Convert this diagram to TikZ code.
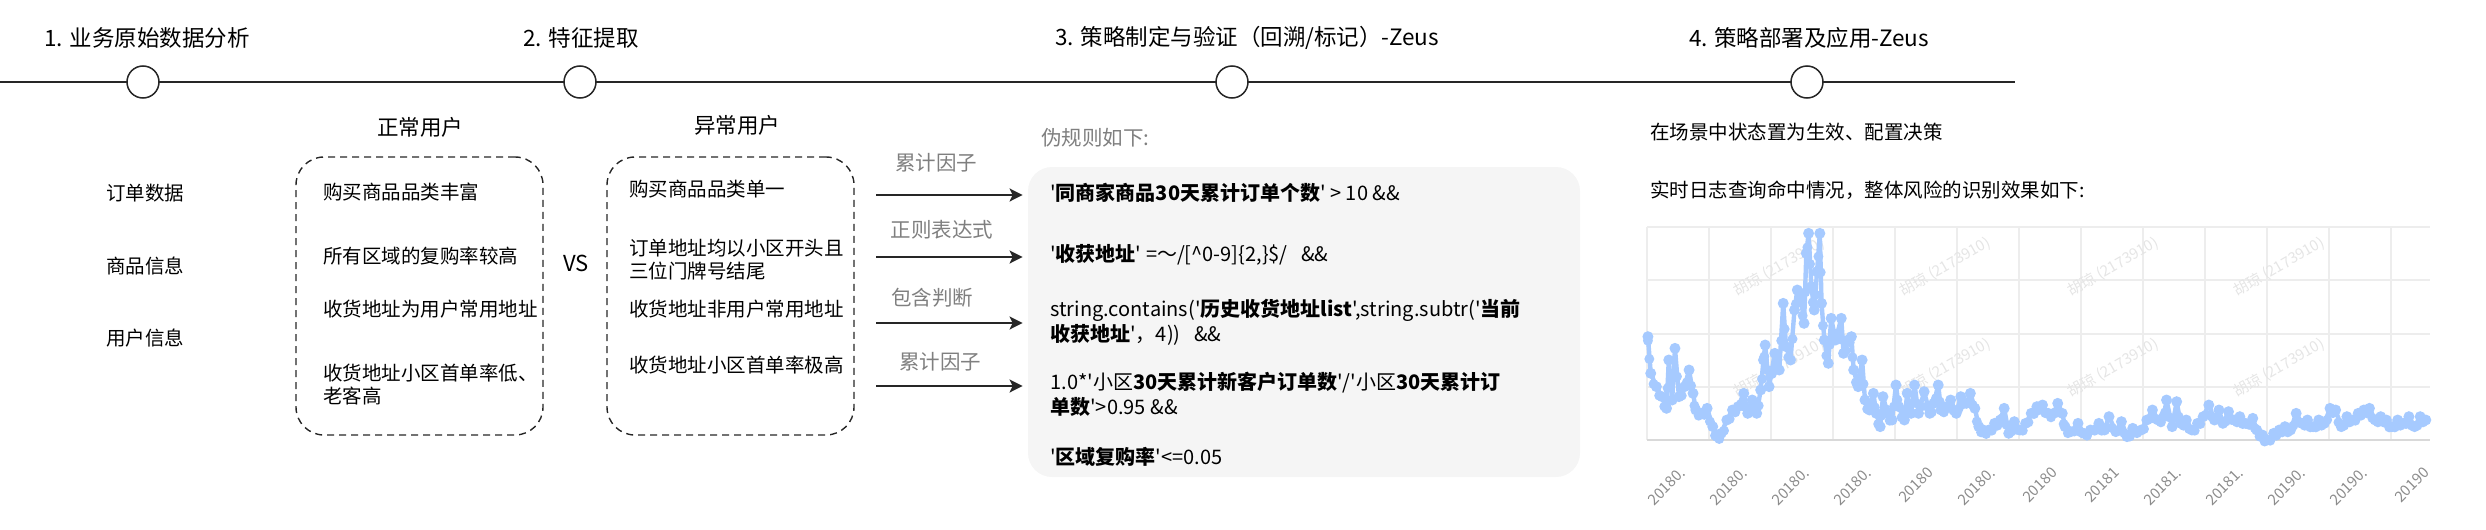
\documentclass[tikz,border=0pt]{standalone}
\usepackage{fontspec}
\newfontfamily\zhfont{Noto Sans CJK SC}
\usetikzlibrary{arrows.meta}
\usetikzlibrary{positioning}
\definecolor{rulefill}{HTML}{F5F5F5}
\definecolor{notegray}{HTML}{7F7F7F}
\definecolor{hitblue}{RGB}{166,202,255}
\definecolor{gridgray}{HTML}{EDEDED}
\tikzset{
  every node/.style={font=\zhfont},
  stagetitle/.style={font=\zhfont\fontsize{11.25}{13.5}\selectfont},
  stagedot/.style={circle, draw=black!85, line width=0.75pt, fill=white, minimum size=16pt, inner sep=0pt},
  sidelabel/.style={anchor=west, inner sep=0pt, font=\zhfont\fontsize{9.75}{12}\selectfont},
  grouptitle/.style={font=\zhfont\fontsize{10.75}{13}\selectfont},
  dashbox/.style={draw=black!85, line width=0.7pt, dash pattern=on 3.5pt off 2.5pt, rounded corners=14pt, minimum width=123.5pt, minimum height=139pt, inner sep=0pt},
  itemtext/.style={anchor=west, inner sep=0pt, align=left, font=\zhfont\fontsize{9.75}{11.5}\selectfont},
  vstext/.style={font=\zhfont\fontsize{11}{13}\selectfont},
  flowarrow/.style={line width=1pt, black!85, -{Stealth[length=6.5pt,width=6.5pt,inset=1.5pt]}, shorten >=2.5pt},
  flowlabel/.style={text=notegray, font=\zhfont\fontsize{10.25}{12}\selectfont},
  rulebox/.style={fill=rulefill, rounded corners=12pt, minimum width=276pt, minimum height=155pt, inner sep=0pt},
  ruletext/.style={anchor=west, inner sep=0pt, align=left, font=\zhfont\fontsize{10}{12.5}\selectfont},
  notetext/.style={anchor=west, inner sep=0pt, font=\zhfont\fontsize{9.75}{12}\selectfont},
  gridline/.style={gridgray, line width=0.75pt},
  hitline/.style={hitblue, line width=2.2pt, line cap=round, line join=round},
  watermark/.style={text=black!10, rotate=30, font=\zhfont\fontsize{7.5}{9}\selectfont},
  ticklabel/.style={text=black!45, rotate=45, anchor=east, inner sep=0pt, font=\zhfont\fontsize{7.5}{9}\selectfont}
}
\def\hitdata{85/410, 90/520, 100/560, 110/590, 118/625, 122/480, 128/600, 133/445, 140/590, 150/560, 158/510, 165/580, 170/630, 180/640, 190/625, 200/680, 208/710, 215/700, 225/660, 235/630, 245/620, 255/580, 262/640, 270/600, 278/640, 285/570, 290/480, 293/435, 300/560, 310/460, 318/510, 325/310, 330/440, 338/480, 345/330, 350/270, 357/300, 362/370, 366/160, 370/100, 375/260, 380/330, 385/215, 390/100, 393/310, 398/420, 405/490, 410/355, 418/420, 428/355, 432/460, 440/420, 446/410, 450/510, 458/560, 465/480, 470/600, 478/630, 485/580, 490/640, 497/680, 502/590, 510/640, 518/660, 525/555, 530/620, 540/660, 545/580, 552/640, 558/555, 565/640, 575/575, 585/640, 592/610, 600/555, 605/630, 615/620, 622/600, 632/640, 640/590, 650/610, 657/580, 665/625, 672/680, 680/690, 690/690, 700/670, 710/660, 717/625, 725/700, 735/665, 745/690, 755/670, 765/640, 775/620, 785/615, 795/640, 805/640, 812/610, 820/640, 825/680, 835/695, 848/670, 858/700, 870/690, 885/670, 895/690, 903/650, 915/695, 925/665, 935/710, 945/685, 960/690, 970/660, 980/630, 990/660, 1000/650, 1005/600, 1015/680, 1023/605, 1030/670, 1040/660, 1050/690, 1060/670, 1070/650, 1080/615, 1090/660, 1098/630, 1105/670, 1115/635, 1125/660, 1135/650, 1145/670, 1158/655, 1165/690, 1175/705, 1183/720, 1195/700, 1205/690, 1215/680, 1225/690, 1235/640, 1245/670, 1255/660, 1265/680, 1275/660, 1285/670, 1295/625, 1305/630, 1315/680, 1325/650, 1335/660, 1345/640, 1355/630, 1365/625, 1375/660, 1385/650, 1395/660, 1405/680, 1415/660, 1425/670, 1435/650, 1445/680, 1455/650, 1465/660}
\begin{document}
\begin{tikzpicture}[x=0.5pt,y=-0.5pt]
\useasboundingbox (0,0) rectangle (2486,530);
\coordinate (tlstart) at (0,82);
\coordinate (tlend) at (2015,82);
\draw[line width=1pt, black!85] (tlstart) -- (tlend);
\node[stagedot] (dot1) at (143,82) {};
\node[stagedot] (dot2) at (580,82) {};
\node[stagedot] (dot3) at (1232,82) {};
\node[stagedot] (dot4) at (1807,82) {};
\node[stagetitle] (stage1) at (147,38) {1. 业务原始数据分析};
\node[stagetitle] (stage2) at (581,38) {2. 特征提取};
\node[stagetitle] (stage3) at (1247,38) {3. 策略制定与验证（回溯/标记）-Zeus};
\node[stagetitle] (stage4) at (1809,38) {4. 策略部署及应用-Zeus};

\node[sidelabel] (order) at (106,193) {订单数据};
\node[sidelabel] (goods) at (106,266) {商品信息};
\node[sidelabel] (user) at (106,338) {用户信息};

\node[grouptitle] (normaltitle) at (420,127) {正常用户};
\node[dashbox] (normalbox) at (419.5,296) {};
\node[itemtext] (normal1) at (323,192) {购买商品品类丰富};
\node[itemtext] (normal2) at (323,256) {所有区域的复购率较高};
\node[itemtext] (normal3) at (323,309) {收货地址为用户常用地址};
\node[itemtext] (normal4) at (323,384.5) {收货地址小区首单率低、\\老客高};

\node[vstext] (vs) at (576,263) {VS};

\node[grouptitle] (abnormaltitle) at (737,125) {异常用户};
\node[dashbox] (abnormalbox) at (730.5,296) {};
\node[itemtext] (abnormal1) at (629,189) {购买商品品类单一};
\node[itemtext] (abnormal2) at (629,259.5) {订单地址均以小区开头且\\三位门牌号结尾};
\node[itemtext] (abnormal3) at (629,309) {收货地址非用户常用地址};
\node[itemtext] (abnormal4) at (629,365) {收货地址小区首单率极高};

\node[rulebox] (rules) at (1304,322) {};
\node[flowlabel, anchor=west, inner sep=0pt] (rulehead) at (1041,138) {伪规则如下:};

\coordinate (flow1) at (876,195);
\coordinate (flow2) at (876,257);
\coordinate (flow3) at (876,323);
\coordinate (flow4) at (876,386);
\draw[flowarrow] (flow1) -- (flow1 -| rules.west);
\draw[flowarrow] (flow2) -- (flow2 -| rules.west);
\draw[flowarrow] (flow3) -- (flow3 -| rules.west);
\draw[flowarrow] (flow4) -- (flow4 -| rules.west);
\node[flowlabel] (flow1label) at (936,163) {累计因子};
\node[flowlabel] (flow2label) at (942,230) {正则表达式};
\node[flowlabel] (flow3label) at (932,298) {包含判断};
\node[flowlabel] (flow4label) at (940,362) {累计因子};

\node[ruletext] (rule1) at (1050,193) {'\textbf{同商家商品30天累计订单个数}' > 10 \&\&};
\node[ruletext] (rule2) at (1050,255) {'\textbf{收获地址}' =～/[\textasciicircum 0-9]\{2,\}\$/\ \ \ \&\&};
\node[ruletext] (rule3) at (1050,322.5) {string.contains('\textbf{历史收货地址list}',string.subtr('\textbf{当前}\\\textbf{收获地址}'，4))\ \ \ \&\&};
\node[ruletext] (rule4) at (1050,394) {1.0*'小区\textbf{30天累计新客户订单数}'/'小区\textbf{30天累计订}\\\textbf{单数}'>0.95 \&\&};
\node[ruletext] (rule5) at (1050,457) {'\textbf{区域复购率}'<=0.05};

\node[notetext] (deploy) at (1650,132) {在场景中状态置为生效、配置决策};
\node[notetext] (monitor) at (1650,190) {实时日志查询命中情况，整体风险的识别效果如下:};

\foreach \k in {0,...,12}
  \draw[gridline] (1647+62*\k,227) -- (1647+62*\k,440);
\foreach \gy in {227,280,334,387}
  \draw[gridline] (1647,\gy) -- (2430,\gy);
\draw[black!15, line width=1pt] (1647,440) -- (2430,440);
\begin{scope}
\clip (1647,227) rectangle (2430,440);
\foreach \wx in {1779,1945,2113,2279}
  \foreach \wy in {267,368}
    \node[watermark] (mark\wx\wy) at (\wx,\wy) {胡琼 (2173910)};
\end{scope}
\foreach \xz/\yz [evaluate=\xz as \px using 1600+\xz/1.774, evaluate=\yz as \py using 200+\yz/3, remember=\px as \qx (initially 1647.9), remember=\py as \qy (initially 336.7)] in \hitdata {
  \draw[hitline] (\qx,\qy) -- (\px,\py);
  \fill[hitblue] (\px,\py) circle[radius=5.5];
  \fill[hitblue] ({(\qx+\px)/2},{(\qy+\py)/2+4}) circle[radius=5];
}
\foreach \k/\lab in {0/20180.,1/20180.,2/20180.,3/20180.,4/20180,5/20180.,6/20180,7/20181,8/20181.,9/20181.,10/20190.,11/20190.,12/20190}
  \node[ticklabel] (tick\k) at (1647+62*\k+36,470) {\lab};
\end{tikzpicture}
\end{document}
